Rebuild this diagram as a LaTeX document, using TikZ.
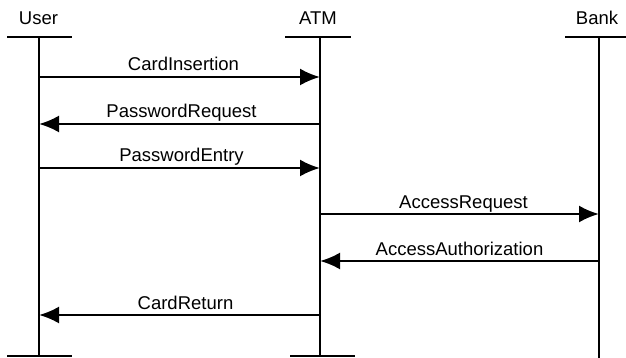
\documentclass[tikz,border=0pt]{standalone}
\usepackage{fontspec}
\setmainfont{Liberation Sans}
\usetikzlibrary{arrows.meta,positioning}

\begin{document}
\begin{tikzpicture}[x=1pt,y=-1pt,every node/.style={font=\fontsize{18.5}{21}\selectfont,inner sep=0pt},
    life/.style={line width=2.3pt},
    msg/.style={line width=2.3pt,-{Latex[length=20pt,width=17pt]}},
    lbl/.style={anchor=base,yshift=6pt}]
   \useasboundingbox (0,0) rectangle (626,358);

   \node[anchor=base] (USER) at (38.5,25) {User};
   \node[anchor=base] (ATM) at (318,25) {ATM};
   \node[anchor=base] (BANK) at (597,25) {Bank};

   \coordinate (USERTOP) at (39,37);
   \coordinate (USERBOT) at (39,356);
   \coordinate (ATMTOP) at (320,37);
   \coordinate (ATMBOT) at (320,356);
   \coordinate (BANKTOP) at (599,37);
   \coordinate (BANKBOT) at (599,358);

   \draw[life] (USERTOP) -- (USERBOT);
   \draw[life] (ATMTOP) -- (ATMBOT);
   \draw[life] (BANKTOP) -- (BANKBOT);

   \draw[life] ([xshift=-32pt]USERTOP) -- ([xshift=33pt]USERTOP);
   \draw[life] ([xshift=-35pt]ATMTOP) -- ([xshift=31pt]ATMTOP);
   \draw[life] ([xshift=-34pt]BANKTOP) -- ([xshift=27pt]BANKTOP);
   \draw[life] ([xshift=-32pt]USERBOT) -- ([xshift=33pt]USERBOT);
   \draw[life] ([xshift=-30pt]ATMBOT) -- ([xshift=35pt]ATMBOT);

   \coordinate (U1) at (39,77);  \coordinate (A1) at (320,77);
   \coordinate (U2) at (39,124); \coordinate (A2) at (320,124);
   \coordinate (U3) at (39,168); \coordinate (A3) at (320,168);
   \coordinate (A4) at (320,214); \coordinate (B4) at (599,214);
   \coordinate (A5) at (320,261); \coordinate (B5) at (599,261);
   \coordinate (U6) at (39,315); \coordinate (A6) at (320,315);

   \path[msg,draw] (U1) -- node[lbl,xshift=4pt] {CardInsertion} (A1);
   \path[msg,draw] (A2) -- node[lbl,xshift=2pt] {PasswordRequest} (U2);
   \path[msg,draw] (U3) -- node[lbl,xshift=2pt] {PasswordEntry} (A3);
   \path[msg,draw] (A4) -- node[lbl,xshift=4pt] {AccessRequest} (B4);
   \path[msg,draw] (B5) -- node[lbl] {AccessAuthorization} (A5);
   \path[msg,draw] (A6) -- node[lbl,xshift=6pt] {CardReturn} (U6);
\end{tikzpicture}
\end{document}
